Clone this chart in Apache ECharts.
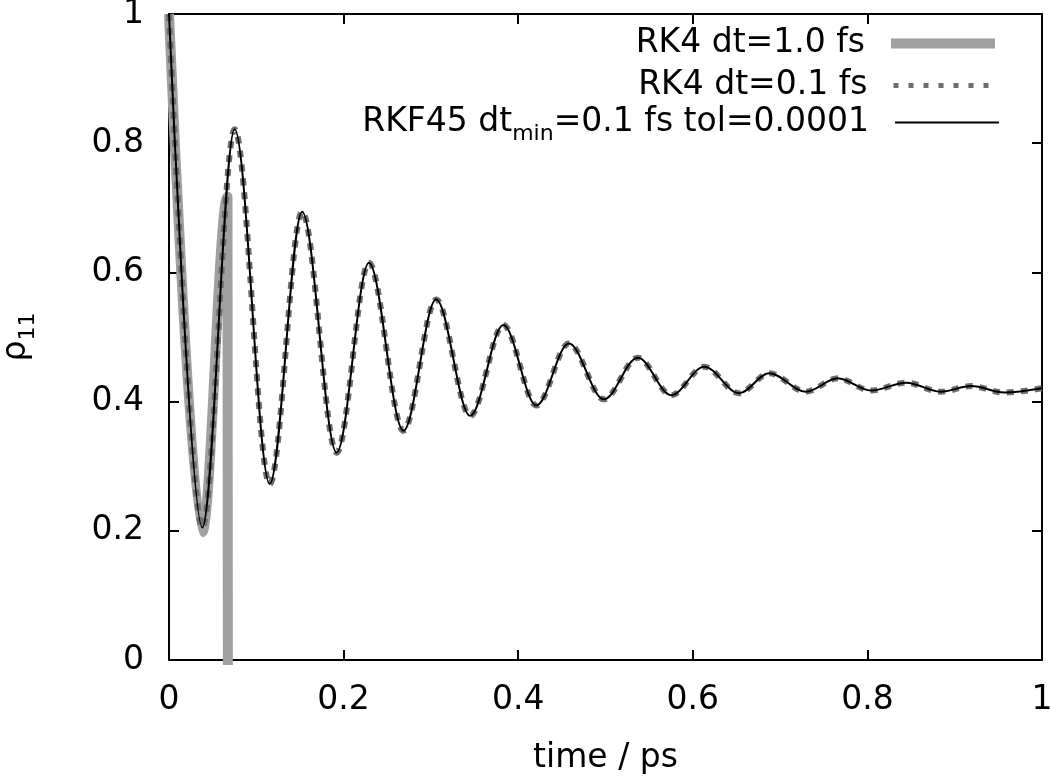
<!DOCTYPE html>
<html>
<head>
<meta charset="utf-8">
<script src="https://cdn.jsdelivr.net/npm/echarts@6/dist/echarts.min.js"></script>
<style>
html,body{margin:0;padding:0;background:#fff;}
#chart{width:1050px;height:779px;}
</style>
</head>
<body>
<div id="chart"></div>
<script>
// ---- data (time in ps, rho_11) ----
// RK4 dt=1.0 fs : follows the curve, then blows up (diverges to large negative values)
const rk4CoarseT = [0, 0.0381, 0.067, 0.0687];
const rk4CoarseY = [1.0, 0.198, 0.717, -3.0];

// extrema of the converged solutions
const rk4FineT = [0, 0.0381, 0.0752, 0.1154, 0.1525, 0.192, 0.229, 0.2685, 0.306, 0.345, 0.383, 0.4208, 0.458, 0.498, 0.537, 0.5754, 0.613, 0.653, 0.6875, 0.7296, 0.766, 0.804, 0.8444, 0.8838, 0.919, 0.957, 1.0];
const rk4FineY = [1.0, 0.205, 0.8215, 0.2724, 0.694, 0.321, 0.615, 0.355, 0.558, 0.378, 0.5186, 0.394, 0.490, 0.4035, 0.468, 0.410, 0.454, 0.413, 0.4438, 0.4153, 0.436, 0.417, 0.4293, 0.4153, 0.424, 0.414, 0.4206];

const rkf45T = [0, 0.0381, 0.0752, 0.1154, 0.1525, 0.192, 0.229, 0.2685, 0.306, 0.345, 0.383, 0.4208, 0.458, 0.498, 0.537, 0.5754, 0.613, 0.653, 0.6875, 0.7296, 0.766, 0.804, 0.8444, 0.8838, 0.919, 0.957, 1.0];
const rkf45Y = [1.0, 0.205, 0.8215, 0.2724, 0.694, 0.321, 0.615, 0.355, 0.558, 0.378, 0.5186, 0.394, 0.490, 0.4035, 0.468, 0.410, 0.454, 0.413, 0.4438, 0.4153, 0.436, 0.417, 0.4293, 0.4153, 0.424, 0.414, 0.4206];

const seriesNames = ['RK4 dt=1.0 fs', 'RK4 dt=0.1 fs', 'RKF45 dtmin=0.1 fs tol=0.0001'];
const xTicks = [0, 0.2, 0.4, 0.6, 0.8, 1];
const yTicks = [0, 0.2, 0.4, 0.6, 0.8, 1];
const xTitle = 'time / ps';

const FONT = 'DejaVu Sans';
const FS = 33;
const pairs = (t, y) => t.map((v, i) => [v, y[i]]);

const chart = echarts.init(document.getElementById('chart'), null, {renderer: 'canvas'});

const richText = {
  n: {fontFamily: FONT, fontSize: FS, color: '#000', lineHeight: FS, verticalAlign: 'top'},
  s: {fontFamily: FONT, fontSize: 22, color: '#000', lineHeight: 22, verticalAlign: 'top', padding: [17, 0, 0, 0]},
  g: {width: 21, lineHeight: FS}
};

function legendFmt(name) {
  if (name === seriesNames[2]) {
    return '{n|RKF45 dt}{s|min}{n|=0.1 fs tol=0.0001}{g|}';
  }
  return '{n|' + name + '}{g|}';
}

function mkLegend(idx, top, lineStyle) {
  return {
    data: [seriesNames[idx]],
    orient: 'vertical',
    right: 50,
    top: top,
    align: 'right',
    itemWidth: 104,
    itemHeight: 14,
    padding: 0,
    selectedMode: false,
    formatter: legendFmt,
    lineStyle: lineStyle,
    itemStyle: {opacity: 0},
    textStyle: {fontFamily: FONT, fontSize: FS, color: '#000', rich: richText}
  };
}

const axisLine = {show: true, onZero: false, lineStyle: {color: '#000', width: 2}};
const axisTick = {show: true, inside: true, length: 10, lineStyle: {color: '#000', width: 2}};

const option = {
  animation: false,
  backgroundColor: '#fff',
  grid: {left: 169, right: 8, top: 14, bottom: 119, containLabel: false, outerBoundsMode: 'none'},
  legend: [
    mkLegend(0, 27, {width: 10, color: '#a0a0a0', type: 'solid'}),
    mkLegend(1, 69, {width: 5, color: '#6e6e6e', type: [5, 10]}),
    mkLegend(2, 106, {width: 2, color: '#000', type: 'solid'})
  ],
  xAxis: [
    {
      type: 'value', position: 'bottom', min: xTicks[0], max: xTicks[xTicks.length - 1], interval: 0.2,
      axisLine: axisLine, axisTick: axisTick, splitLine: {show: false},
      axisLabel: {fontFamily: FONT, fontSize: FS, color: '#000', margin: 24, showMinLabel: true, showMaxLabel: true},
      name: xTitle, nameLocation: 'middle', nameGap: 82,
      nameTextStyle: {fontFamily: FONT, fontSize: FS, color: '#000'}
    },
    {
      type: 'value', position: 'top', min: xTicks[0], max: xTicks[xTicks.length - 1], interval: 0.2,
      axisLine: axisLine, axisTick: axisTick, splitLine: {show: false}, axisLabel: {show: false}
    }
  ],
  yAxis: [
    {
      type: 'value', position: 'left', min: yTicks[0], max: yTicks[yTicks.length - 1], interval: 0.2,
      axisLine: axisLine, axisTick: axisTick, splitLine: {show: false},
      axisLabel: {fontFamily: FONT, fontSize: FS, color: '#000', margin: 25},
      name: '{a|ρ}{b|11}', nameLocation: 'middle', nameGap: 136,
      nameTextStyle: {
        rich: {
          a: {fontFamily: FONT, fontSize: FS, color: '#000', lineHeight: FS, verticalAlign: 'top'},
          b: {fontFamily: FONT, fontSize: 22, color: '#000', lineHeight: 22, verticalAlign: 'top', padding: [17, 0, 0, 0]}
        }
      }
    },
    {
      type: 'value', position: 'right', min: yTicks[0], max: yTicks[yTicks.length - 1], interval: 0.2,
      axisLine: axisLine, axisTick: axisTick, splitLine: {show: false}, axisLabel: {show: false}
    }
  ],
  series: [
    {
      name: seriesNames[0], type: 'line', xAxisIndex: 0, yAxisIndex: 0,
      data: pairs(rk4CoarseT, rk4CoarseY),
      smooth: 0.34, smoothMonotone: 'x', showSymbol: false, symbol: 'none', clip: true,
      lineStyle: {color: '#a0a0a0', width: 10, join: 'round'}, itemStyle: {color: '#a0a0a0'}, z: 1
    },
    {
      name: seriesNames[1], type: 'line', xAxisIndex: 0, yAxisIndex: 0,
      data: pairs(rk4FineT, rk4FineY),
      smooth: 0.34, smoothMonotone: 'x', showSymbol: false, symbol: 'none', clip: true,
      lineStyle: {color: '#6e6e6e', width: 6, type: [7, 7]}, itemStyle: {color: '#6e6e6e'}, z: 2
    },
    {
      name: seriesNames[2], type: 'line', xAxisIndex: 0, yAxisIndex: 0,
      data: pairs(rkf45T, rkf45Y),
      smooth: 0.34, smoothMonotone: 'x', showSymbol: false, symbol: 'none', clip: true,
      lineStyle: {color: '#000', width: 2}, itemStyle: {color: '#000'}, z: 3
    }
  ]
};
chart.setOption(option);
</script>
</body>
</html>
